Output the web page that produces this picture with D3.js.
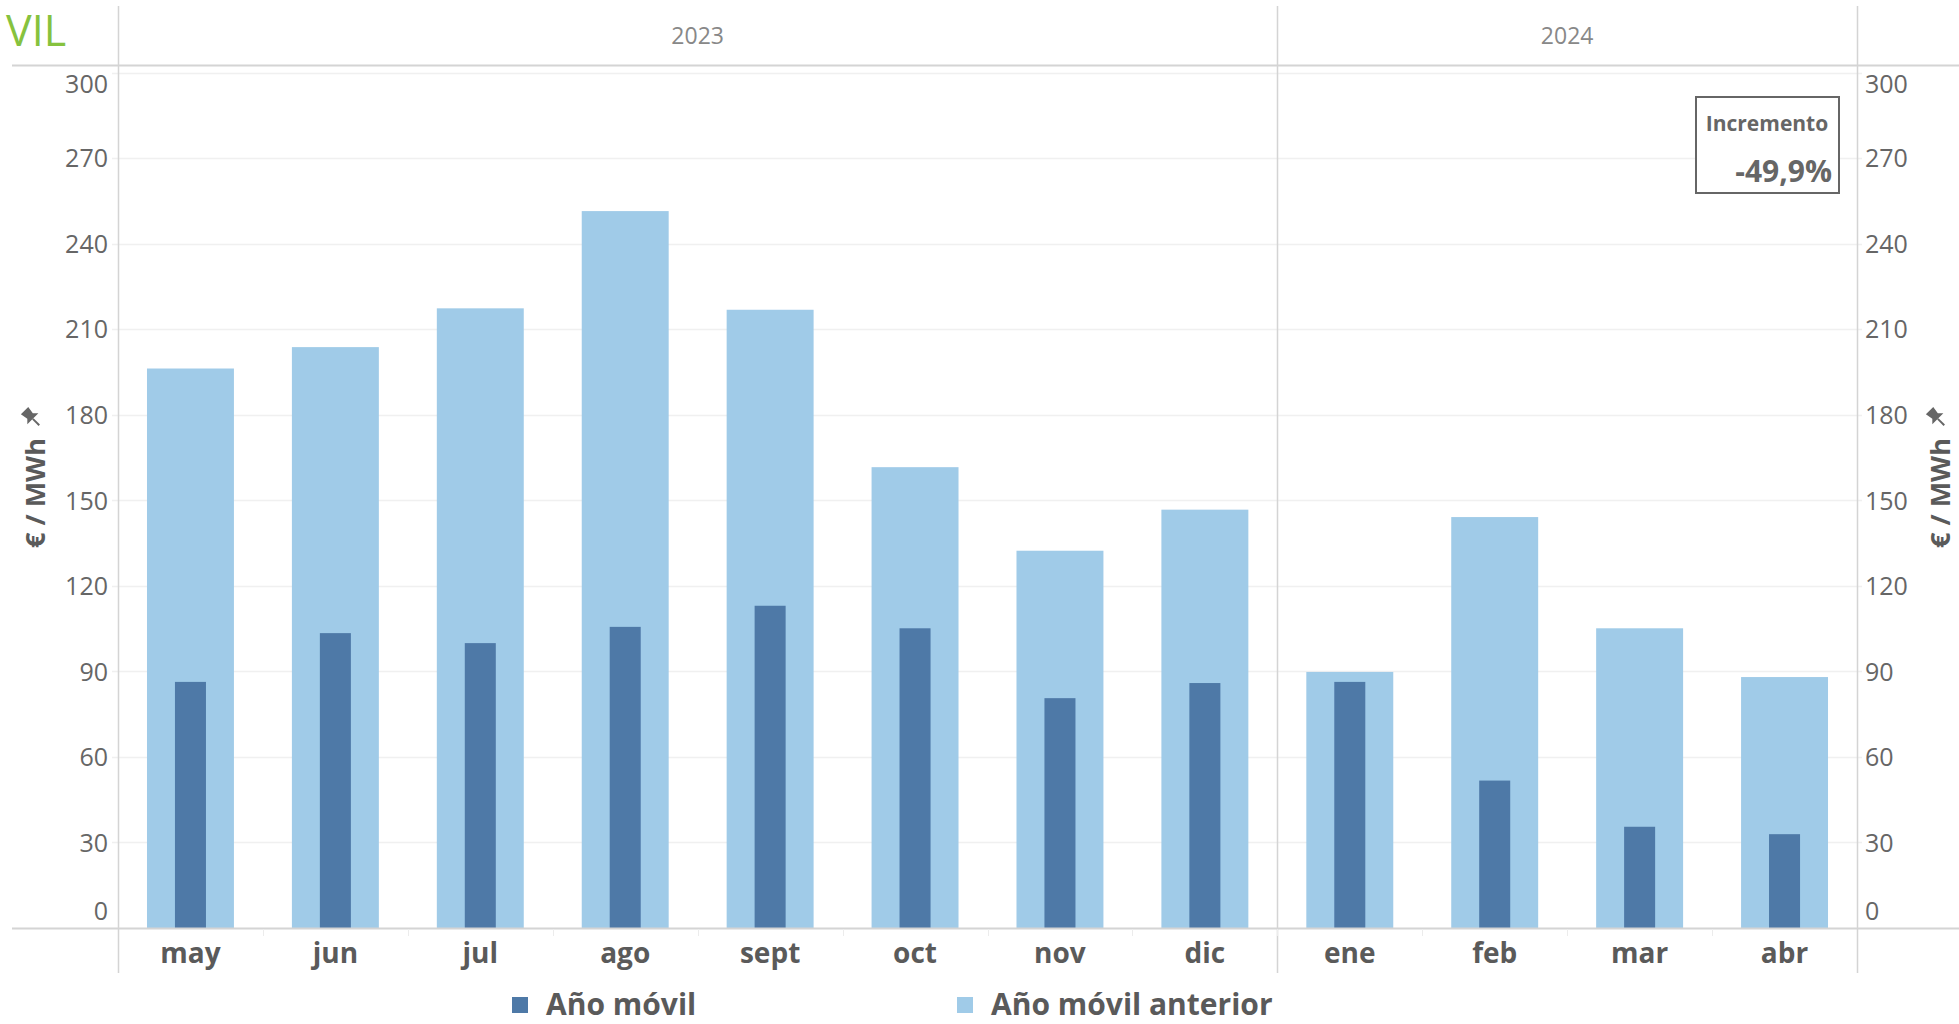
<!DOCTYPE html>
<html>
<head>
<meta charset="utf-8">
<script src="https://cdn.jsdelivr.net/npm/d3@7/dist/d3.min.js"></script>
<style>
  html, body { margin: 0; padding: 0; background: #fff; }
  svg { display: block; }
  text { font-family: "Open Sans", "DejaVu Sans", sans-serif; }
</style>
</head>
<body>
<svg id="chart" width="1959" height="1024"></svg>
<script>
// ---- data ----
const months = ["may", "jun", "jul", "ago", "sept", "oct", "nov", "dic", "ene", "feb", "mar", "abr"];
const monthYears = ["2023", "2023", "2023", "2023", "2023", "2023", "2023", "2023", "2024", "2024", "2024", "2024"];
const years = ["2023", "2024"];
const anoMovil = [86.3, 103.4, 99.9, 105.6, 113.0, 105.1, 80.6, 85.9, 86.3, 51.7, 35.5, 32.9];
const anoMovilAnterior = [196.2, 203.7, 217.3, 251.4, 216.8, 161.6, 132.3, 146.7, 89.8, 144.1, 105.1, 88.0];
const yTicks = [0, 30, 60, 90, 120, 150, 180, 210, 240, 270, 300];
const seriesNames = ["Año móvil", "Año móvil anterior"];
const seriesColors = ["#4e79a7", "#a0cbe8"];
const title = "VIL";
const axisTitle = "€ / MWh";
const incrementLabel = "Incremento";
const incrementValue = "-49,9%";

// ---- layout ----
const svg = d3.select("#chart");
const plotLeft = 118, plotRight = 1857, plotTop = 72.5, plotBottom = 928;
const headerY = 65, frameTop = 6, frameBottom = 973;
const lineColor = "#d4d4d4", gridColor = "#f0f0f0", tickColor = "#666", labelColor = "#5a5a5a";

const x = d3.scaleBand().domain(months).range([plotLeft, plotRight]).paddingInner(0).paddingOuter(0);
const y = d3.scaleLinear().domain([0, 300]).range([plotBottom, plotTop]);
const bw = x.bandwidth();

// title
svg.append("text").attr("x", 6).attr("y", 46).attr("font-size", 43)
  .attr("font-family", "'Liberation Sans', Arial, sans-serif")
  .attr("fill", "#86c23e").text(title);

// gridlines
svg.append("g").selectAll("line").data(yTicks.filter(d => d > 0)).join("line")
  .attr("x1", 112).attr("x2", 1862)
  .attr("y1", d => Math.round(y(d)) + 0.5).attr("y2", d => Math.round(y(d)) + 0.5)
  .attr("stroke", gridColor).attr("stroke-width", 1.5);

// bars: previous year (wide, light)
const data = months.map((m, i) => ({ m, year: monthYears[i], cur: anoMovil[i], prev: anoMovilAnterior[i] }));
svg.append("g").selectAll("rect").data(data).join("rect")
  .attr("x", d => x(d.m) + bw * 0.2).attr("width", bw * 0.6)
  .attr("y", d => y(d.prev)).attr("height", d => y(0) - y(d.prev))
  .attr("fill", seriesColors[1]);
// bars: current (narrow, dark)
const dw = bw * 0.214;
svg.append("g").selectAll("rect").data(data).join("rect")
  .attr("x", d => x(d.m) + (bw - dw) / 2).attr("width", dw)
  .attr("y", d => y(d.cur)).attr("height", d => y(0) - y(d.cur))
  .attr("fill", seriesColors[0]);

// frame lines
const paneEdges = [plotLeft];
years.forEach(yr => {
  const last = months.filter((m, i) => monthYears[i] === yr).slice(-1)[0];
  paneEdges.push(x(last) + bw);
});
svg.append("g").selectAll("line").data(paneEdges).join("line")
  .attr("x1", d => Math.round(d) + 0.5).attr("x2", d => Math.round(d) + 0.5)
  .attr("y1", frameTop).attr("y2", frameBottom)
  .attr("stroke", lineColor).attr("stroke-width", 1.5);
svg.append("line").attr("x1", 12).attr("x2", 1959).attr("y1", headerY + 0.5).attr("y2", headerY + 0.5)
  .attr("stroke", lineColor).attr("stroke-width", 2);
svg.append("line").attr("x1", 12).attr("x2", 1959).attr("y1", plotBottom + 0.5).attr("y2", plotBottom + 0.5)
  .attr("stroke", lineColor).attr("stroke-width", 2);

// small band separators under axis
svg.append("g").selectAll("line").data(months.slice(1)).join("line")
  .attr("x1", d => Math.round(x(d)) + 0.5).attr("x2", d => Math.round(x(d)) + 0.5)
  .attr("y1", plotBottom + 1).attr("y2", plotBottom + 8)
  .attr("stroke", "#ececec").attr("stroke-width", 1);

// year headers
years.forEach((yr, k) => {
  const cx = (paneEdges[k] + paneEdges[k + 1]) / 2;
  svg.append("text").attr("x", cx).attr("y", 44).attr("text-anchor", "middle")
    .attr("font-size", 23).attr("fill", "#888").text(yr);
});

// y axes (left and right)
function styleAxis(g) {
  g.select(".domain").remove();
  g.selectAll(".tick line").remove();
  g.selectAll(".tick text").attr("font-size", 25).attr("fill", tickColor)
    .attr("font-family", "'Open Sans', sans-serif")
    .attr("dy", d => d === 300 ? "0.8em" : (d === 0 ? "-0.35em" : "0.35em"));
}
svg.append("g").attr("transform", `translate(${108},0)`)
  .call(d3.axisLeft(y).tickValues(yTicks).tickSize(0).tickPadding(0)).call(styleAxis);
svg.append("g").attr("transform", `translate(${1865},0)`)
  .call(d3.axisRight(y).tickValues(yTicks).tickSize(0).tickPadding(0)).call(styleAxis);

// month labels
svg.append("g").selectAll("text").data(months).join("text")
  .attr("x", d => x(d) + bw / 2).attr("y", 963).attr("text-anchor", "middle")
  .attr("font-size", 28).attr("font-weight", 700).attr("fill", labelColor).text(d => d);

// axis titles with pin icons
function axisTitleAt(cx) {
  const g = svg.append("g").attr("transform", `translate(${cx},493) rotate(-90)`);
  g.append("text").attr("x", 0).attr("y", 0).attr("dy", "0.35em").attr("text-anchor", "middle")
    .attr("font-size", 27).attr("font-weight", 700).attr("fill", labelColor).text(axisTitle);
  // pushpin icon
  const p = g.append("g").attr("transform", `translate(76,-5) rotate(45) scale(1.3)`);
  p.append("path").attr("d", "M-4,-7 L4,-7 L3,-1 L6,2 L-6,2 L-3,-1 Z").attr("fill", "#666");
  p.append("line").attr("x1", 0).attr("x2", 0).attr("y1", 2).attr("y2", 9).attr("stroke", "#666").attr("stroke-width", 1.5);
}
axisTitleAt(36);
axisTitleAt(1941);

// increment box
svg.append("rect").attr("x", 1696).attr("y", 97).attr("width", 143).attr("height", 96)
  .attr("fill", "#fff").attr("stroke", "#666").attr("stroke-width", 2);
svg.append("text").attr("x", 1767).attr("y", 131).attr("text-anchor", "middle")
  .attr("font-size", 21).attr("font-weight", 700).attr("fill", "#666").text(incrementLabel);
svg.append("text").attr("x", 1832).attr("y", 182).attr("text-anchor", "end")
  .attr("font-size", 30).attr("font-weight", 700).attr("fill", "#666").text(incrementValue);

// legend
const legendX = [512, 957];
seriesNames.forEach((s, i) => {
  svg.append("rect").attr("x", legendX[i]).attr("y", 997).attr("width", 16).attr("height", 16)
    .attr("fill", seriesColors[i]);
  svg.append("text").attr("x", legendX[i] + 34).attr("y", 1015)
    .attr("font-size", 30).attr("font-weight", 700).attr("fill", labelColor).text(s);
});
</script>
</body>
</html>
